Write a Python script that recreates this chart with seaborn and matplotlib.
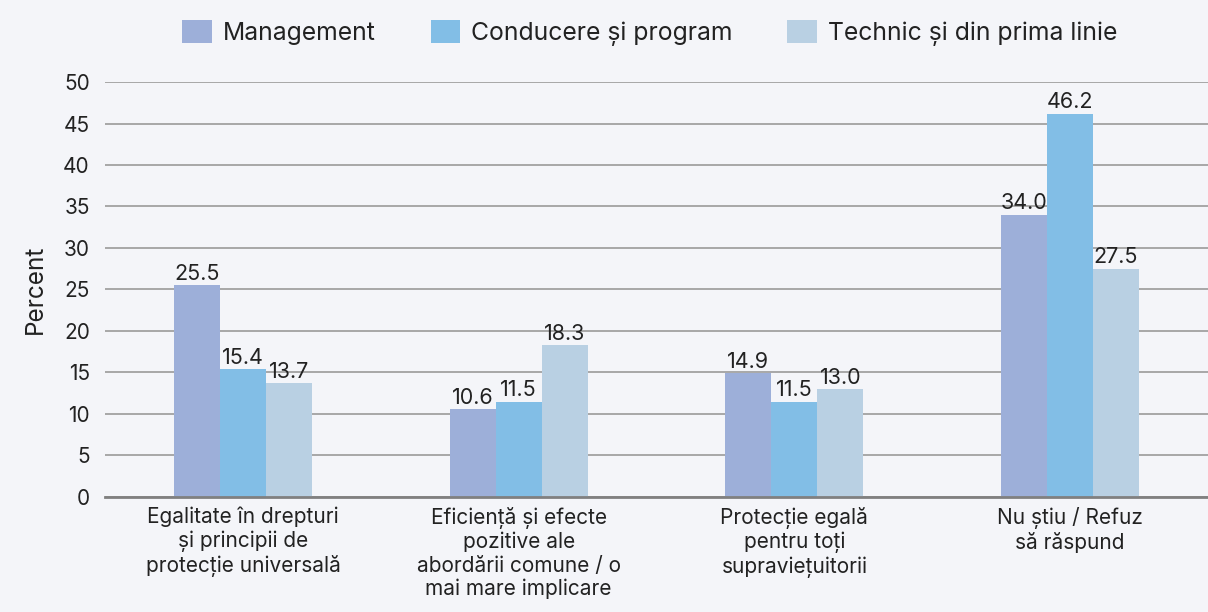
import pandas as pd
import matplotlib.pyplot as plt
import seaborn as sns

# Data
categories = [
    "Egalitate în drepturi\nși principii de\nprotecție universală",
    "Eficiență și efecte\npozitive ale\nabordării comune / o\nmai mare implicare",
    "Protecție egală\npentru toți\nsupraviețuitorii",
    "Nu știu / Refuz\nsă răspund",
]
groups = ["Management", "Conducere și program", "Technic și din prima linie"]
management = [25.5, 10.6, 14.9, 34.0]
conducere = [15.4, 11.5, 11.5, 46.2]
technic = [13.7, 18.3, 13.0, 27.5]
colors = ["#9dafd9", "#82bee6", "#b9d0e3"]

rows = []
for g, vals in zip(groups, [management, conducere, technic]):
    for c, v in zip(categories, vals):
        rows.append({"category": c, "group": g, "value": v})
df = pd.DataFrame(rows)

bg = "#f4f5f9"
sns.set_style("white")
plt.rcParams["font.family"] = ["Inter", "DejaVu Sans"]
plt.rcParams["text.color"] = "#222222"

fig = plt.figure(figsize=(12.08, 6.12), dpi=100, facecolor=bg)
ax = fig.add_axes([0.087, 0.188, 0.913, 0.678], facecolor=bg)

sns.barplot(data=df, x="category", y="value", hue="group", palette=colors,
            width=0.5, saturation=1, linewidth=0, ax=ax, legend=True)

# Value labels
for cont in ax.containers:
    ax.bar_label(cont, fmt="%.1f", padding=1, fontsize=15.5, color="#222222")

ax.set_xlim(-0.5, 3.5)
ax.set_ylim(0, 50)
ax.set_yticks(range(0, 51, 5))
ax.yaxis.grid(True, color="#9a9a9a", linewidth=1.2)
ax.set_axisbelow(True)
for s in ["top", "right", "left"]:
    ax.spines[s].set_visible(False)
ax.spines["bottom"].set_color("#808080")
ax.spines["bottom"].set_linewidth(2)
ax.tick_params(axis="y", length=0, labelsize=15, pad=11, labelcolor="#222222")
ax.tick_params(axis="x", length=0, labelsize=15, pad=7, labelcolor="#222222")
ax.set_xlabel("")
ax.set_ylabel("Percent", fontsize=17.5, labelpad=12, color="#222222")

handles, labels = ax.get_legend_handles_labels()
ax.legend_.remove()
fig.legend(handles, labels, loc="center", bbox_to_anchor=(0.538, 0.946), ncol=3,
           frameon=False, fontsize=17.8, handlelength=1.2, handleheight=1.05,
           columnspacing=2.2, handletextpad=0.45)

fig.savefig("out.png", dpi=100, facecolor=bg)
